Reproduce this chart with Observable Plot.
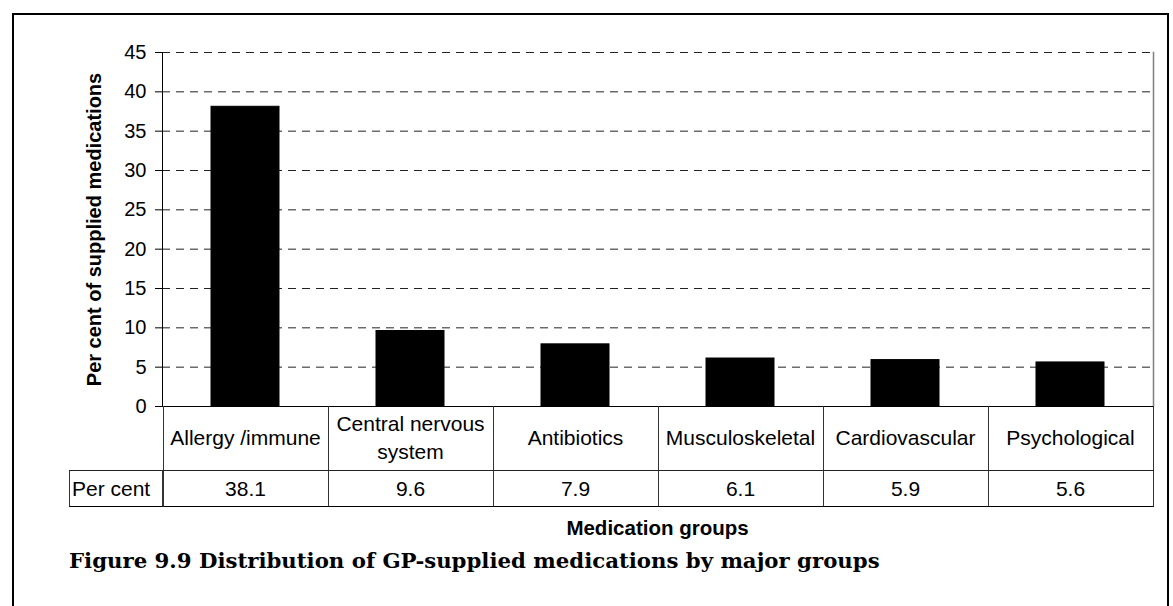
<!DOCTYPE html>
<html>
<head>
<meta charset="utf-8">
<script src="https://cdn.jsdelivr.net/npm/d3@7"></script>
<script src="https://cdn.jsdelivr.net/npm/@observablehq/plot@0.6"></script>
<style>
  html, body { margin: 0; padding: 0; background: #fff; }
  #wrap { position: relative; width: 1173px; height: 606px; overflow: hidden; background: #fff;
          font-family: "Liberation Sans", Arial, sans-serif; color: #000; }
  #frame { position: absolute; left: 12px; top: 13px; width: 1157px; height: 620px;
           border: 2px solid #000; border-bottom: none; box-sizing: border-box; }
  #chart { position: absolute; left: 0; top: 0; }
  .cell { position: absolute; box-sizing: border-box; display: flex; align-items: center;
          justify-content: center; text-align: center; font-size: 21px; line-height: 28px; }
  #xtitle { position: absolute; font-weight: bold; font-size: 20.5px; transform: translateX(-50%); white-space: nowrap; }
  #caption { position: absolute; font-family: "DejaVu Serif", serif; font-weight: bold; white-space: nowrap; line-height: 1; }
</style>
</head>
<body>
<div id="wrap">
  <div id="frame"></div>
  <div id="chart"></div>
</div>
<script>
// ---- data ----
const groups = ["Allergy /immune", "Central nervous system", "Antibiotics", "Musculoskeletal", "Cardiovascular", "Psychological"];
const percents = [38.1, 9.6, 7.9, 6.1, 5.9, 5.6];
const valueLabels = ["38.1", "9.6", "7.9", "6.1", "5.9", "5.6"];
const yTicks = [0, 5, 10, 15, 20, 25, 30, 35, 40, 45];
const rowHeader = "Per cent";
const yTitle = "Per cent of supplied medications";
const xTitle = "Medication groups";
const captionText = "Figure 9.9 Distribution of GP-supplied medications by major groups";

const data = groups.map((g, i) => ({group: g, value: percents[i]}));

const chart = Plot.plot({
  width: 1173,
  height: 410,
  marginLeft: 162,
  marginRight: 20,
  marginTop: 52,
  marginBottom: 4,
  style: {fontFamily: "'Liberation Sans', Arial, sans-serif", fontSize: "20px", color: "#000", background: "transparent", overflow: "visible"},
  x: {domain: groups, paddingInner: 0.59, paddingOuter: 0.295, axis: null},
  y: {domain: [0, 45], axis: null},
  marks: [
    Plot.gridY(yTicks.filter(d => d > 0), {stroke: "#222", strokeOpacity: 1, strokeDasharray: "8,6"}),
    Plot.barY(data, {x: "group", y: "value", fill: "#000", stroke: "#000", strokeWidth: 1}),
    Plot.frame({anchor: "right", stroke: "#808080", strokeWidth: 1.5}),
    Plot.frame({anchor: "left", stroke: "#000"}),
    Plot.ruleY([0], {stroke: "#000"}),
    Plot.axisY({ticks: yTicks, tickSize: 7, tickPadding: 9, fontSize: 20, label: null, stroke: "#000"}),
    Plot.text([yTitle], {frameAnchor: "left", dx: -68, rotate: -90, textAnchor: "middle", fontWeight: "bold", fontSize: 20, fill: "#000"})
  ]
});
document.getElementById("chart").appendChild(chart);

// ---- data table under the plot, aligned with the x band scale ----
const xs = chart.scale("x");
const ys = chart.scale("y");
const wrap = document.getElementById("wrap");
const y0 = ys.apply(0);
const row1H = 64, row2H = 36;
const tableLeft = 69;
const plotLeft = xs.range[0], plotRight = xs.range[1];

function cell(left, top, w, h, text, borders) {
  const d = document.createElement("div");
  d.className = "cell";
  Object.assign(d.style, {left: left + "px", top: top + "px", width: w + "px", height: h + "px"});
  for (const [side, color] of Object.entries(borders)) d.style["border" + side] = "1px solid " + color;
  d.textContent = text;
  wrap.appendChild(d);
  return d;
}

groups.forEach((g, i) => {
  const left = xs.apply(g) + xs.bandwidth / 2 - xs.step / 2;
  cell(left, y0, xs.step + 1, row1H + 1, g, {Left: "#333", Right: "#333", Bottom: "#222"});
  cell(left, y0 + row1H, xs.step + 1, row2H + 1, valueLabels[i], {Left: "#333", Right: "#333", Bottom: "#000", Top: "#222"});
});
const hdr = cell(tableLeft, y0 + row1H, plotLeft - tableLeft + 1, row2H + 1, rowHeader, {Left: "#333", Bottom: "#000", Top: "#222", Right: "#333"});
hdr.style.justifyContent = "flex-start";
hdr.style.paddingLeft = "2px";

const xt = document.createElement("div");
xt.id = "xtitle";
xt.textContent = xTitle;
xt.style.left = ((plotLeft + plotRight) / 2) + "px";
xt.style.top = (y0 + row1H + row2H + 10) + "px";
wrap.appendChild(xt);

const cap = document.createElement("div");
cap.id = "caption";
cap.textContent = captionText;
cap.style.fontSize = "20px";
cap.style.left = tableLeft + "px";
wrap.appendChild(cap);
const w = cap.getBoundingClientRect().width;
const fs = 20 * (880 - tableLeft) / w;
cap.style.fontSize = fs + "px";
cap.style.top = (567 - fs * 0.8) + "px";
</script>
</body>
</html>
